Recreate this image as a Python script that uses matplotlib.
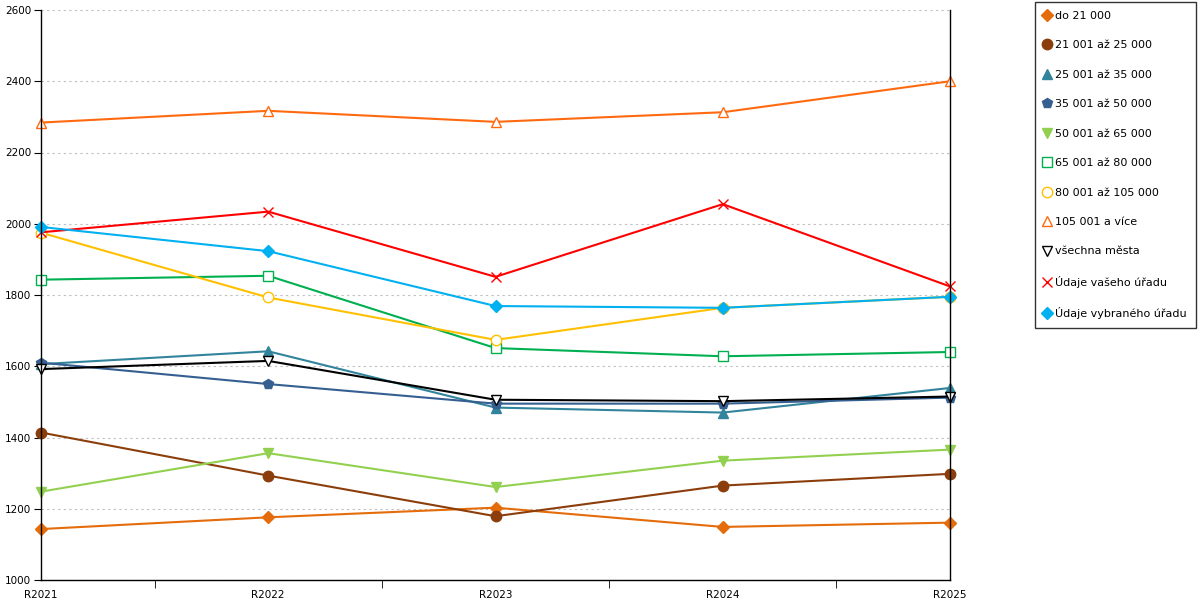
import matplotlib
matplotlib.use("Agg")
import matplotlib.pyplot as plt
from matplotlib.lines import Line2D

categories = ["R2021", "R2022", "R2023", "R2024", "R2025"]

do_21000 = [1143, 1176, 1203, 1149, 1161]
s21_25 = [1414, 1293, 1179, 1265, 1298]
s25_35 = [1606, 1642, 1484, 1470, 1539]
s35_50 = [1610, 1550, 1495, 1495, 1512]
s50_65 = [1248, 1356, 1261, 1335, 1366]
s65_80 = [1843, 1854, 1651, 1628, 1640]
s80_105 = [1975, 1793, 1674, 1764, 1795]
s105_plus = [2284, 2317, 2286, 2313, 2400]
vsechna = [1592, 1615, 1506, 1502, 1515]
vaseho = [1976, 2034, 1851, 2055, 1824]
vybraneho = [1991, 1923, 1769, 1764, 1795]

labels = ["do 21 000", "21 001 až 25 000", "25 001 až 35 000", "35 001 až 50 000",
          "50 001 až 65 000", "65 001 až 80 000", "80 001 až 105 000", "105 001 a více",
          "všechna města", "Údaje vašeho úřadu", "Údaje vybraného úřadu"]
series = [do_21000, s21_25, s25_35, s35_50, s50_65, s65_80, s80_105, s105_plus,
          vsechna, vaseho, vybraneho]
colors = ["#E46C0A", "#8B3E0B", "#31849B", "#365F91", "#92D050", "#00B050",
          "#FFC000", "#FF6A10", "#000000", "#FF0000", "#00B0F0"]
markers = ["D", "o", "^", "p", "v", "s", "o", "^", "v", "x", "D"]
filled = [True, True, True, True, True, False, False, False, False, True, True]
msizes = [6, 7.5, 7.5, 7.5, 7.5, 7.5, 7.5, 7.5, 7.5, 7.5, 6]

plt.rcParams['font.family'] = ['DejaVu Sans']
fig = plt.figure(figsize=(12, 6), dpi=100)
ax = fig.add_axes([41/1200, 20/600, 909/1200, 570/600])

x = list(range(len(categories)))
handles = []
for vals, lab, c, m, f, ms in zip(series, labels, colors, markers, filled, msizes):
    kw = dict(color=c, marker=m, markersize=ms, linewidth=1.5)
    if m == "x":
        kw.update(markeredgecolor=c, markeredgewidth=1.0)
    elif f:
        kw.update(markerfacecolor=c, markeredgecolor=c)
    else:
        kw.update(markerfacecolor="white", markeredgecolor=c, markeredgewidth=1.0)
    ax.plot(x, vals, label=lab, clip_on=False, **kw)
    hk = dict(kw)
    hk.pop("linewidth")
    handles.append(Line2D([], [], linestyle="none", **hk))

ax.set_xlim(0, 4)
ax.set_ylim(1000, 2600)
ax.set_yticks(range(1000, 2601, 200))
ax.set_xticks(x)
ax.set_xticklabels(categories)
ax.set_xticks([0, 0.5, 1.5, 2.5, 3.5, 4], minor=True)
ax.tick_params(axis="x", which="major", length=0, pad=7, labelsize=7.5)
ax.tick_params(axis="x", which="minor", length=6, direction="out", color="black")
ax.tick_params(axis="y", which="major", length=5, direction="out", labelsize=7.5, pad=2)
ax.grid(axis="y", linestyle=(0, (2, 3)), color="#BFBFBF", linewidth=0.8)
ax.set_axisbelow(True)
for side in ["left", "right", "bottom"]:
    ax.spines[side].set_color("black")
    ax.spines[side].set_linewidth(1.0)
ax.spines["top"].set_visible(False)

leg = fig.legend(handles, labels, loc="upper left", bbox_to_anchor=(1035/1200, 1 - 2/600),
                 fontsize=8.0, frameon=True, fancybox=False, edgecolor="black",
                 labelspacing=1.75, handletextpad=0.4, handlelength=0.6,
                 borderpad=0.8, borderaxespad=0)
leg.get_frame().set_linewidth(1.0)

fig.savefig("out.png", dpi=100)
